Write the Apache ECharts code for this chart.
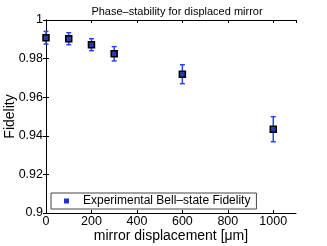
<!DOCTYPE html>
<html><head><meta charset="utf-8">
<script src="https://cdn.jsdelivr.net/npm/echarts@6/dist/echarts.min.js"></script>
<style>html,body{margin:0;padding:0;background:#fff}#c{width:327px;height:246px}</style>
</head><body><div id="c"></div>
<script>
var displacement = [0, 100, 200, 300, 600, 1000];
var fidelity = [0.9908, 0.9903, 0.9872, 0.9825, 0.9719, 0.9434];
var fidelityErr = [0.0033, 0.0031, 0.0031, 0.0037, 0.0049, 0.0065];
var xTicks = [0, 200, 400, 600, 800, 1000];
var seriesName = 'Experimental Bell\u2013state Fidelity';

var font = 'Liberation Sans, Arial, sans-serif';
var chart = echarts.init(document.getElementById('c'), null, {renderer: 'canvas'});
var pts = displacement.map(function (x, i) { return [x, fidelity[i]]; });
var errData = displacement.map(function (x, i) { return [x, fidelity[i] - fidelityErr[i], fidelity[i] + fidelityErr[i]]; });
var axisLineStyle = {color: '#000', width: 1};
chart.setOption({
  animation: false,
  title: {text: 'Phase\u2013stability for displaced mirror', left: 172, top: 1, textAlign: 'center',
    textStyle: {fontFamily: font, fontSize: 11, fontWeight: 'normal', color: '#000'}},
  grid: {left: 46, right: 31, top: 20, bottom: 33, containLabel: false, outerBoundsMode: 'none'},
  legend: {left: 51, top: 193, padding: [2, 6, 2, 13], itemWidth: 5, itemHeight: 5, itemGap: 0,
    borderColor: '#444', borderWidth: 1, backgroundColor: '#fff',
    icon: 'rect', data: [{name: seriesName, itemStyle: {color: '#2233cc', borderWidth: 0}}],
    textStyle: {fontFamily: font, fontSize: 12, color: '#000', padding: [0, 0, 0, 9]}},
  xAxis: [{type: 'value', min: 0, max: 1100, interval: 200, position: 'bottom',
    name: 'mirror displacement [\u03bcm]', nameLocation: 'middle', nameGap: 16, nameMoveOverlap: false,
    nameTextStyle: {fontFamily: font, fontSize: 14, color: '#000'},
    axisLine: {lineStyle: axisLineStyle}, splitLine: {show: false},
    axisTick: {inside: true, length: 3, lineStyle: {color: '#000'}},
    axisLabel: {fontFamily: font, fontSize: 12.5, color: '#000', margin: 2, showMaxLabel: false,
      formatter: function (v) { return xTicks.indexOf(v) >= 0 ? String(v) : ''; }}},
   {type: 'value', min: 0, max: 1100, interval: 200, position: 'top',
    axisLine: {lineStyle: axisLineStyle}, splitLine: {show: false},
    axisTick: {inside: true, length: 3, lineStyle: {color: '#000'}}, axisLabel: {show: false}}],
  yAxis: [{type: 'value', min: 0.9, max: 1, interval: 0.02, position: 'left',
    name: 'Fidelity', nameLocation: 'middle', nameGap: 29, nameRotate: 90, nameMoveOverlap: false,
    nameTextStyle: {fontFamily: font, fontSize: 14, color: '#000'},
    axisLine: {lineStyle: axisLineStyle}, splitLine: {show: false},
    axisTick: {inside: true, length: 3, lineStyle: {color: '#000'}},
    axisLabel: {fontFamily: font, fontSize: 12.5, color: '#000', margin: 3,
      formatter: function (v) { return String(+v.toFixed(2)); }}},
   {type: 'value', min: 0.9, max: 1, interval: 0.02, position: 'right',
    axisLine: {lineStyle: axisLineStyle}, splitLine: {show: false},
    axisTick: {inside: true, length: 3, lineStyle: {color: '#000'}}, axisLabel: {show: false}}],
  series: [
    {type: 'custom', name: 'err', data: errData, z: 2,
     renderItem: function (params, api) {
       var lo = api.coord([api.value(0), api.value(1)]);
       var hi = api.coord([api.value(0), api.value(2)]);
       var w = 2.5;
       var st = {stroke: '#2a44ee', lineWidth: 1.5};
       return {type: 'group', children: [
         {type: 'line', shape: {x1: lo[0], y1: lo[1], x2: hi[0], y2: hi[1]}, style: st},
         {type: 'line', shape: {x1: lo[0] - w, y1: lo[1], x2: lo[0] + w, y2: lo[1]}, style: st},
         {type: 'line', shape: {x1: hi[0] - w, y1: hi[1], x2: hi[0] + w, y2: hi[1]}, style: st}
       ]};
     }},
    {type: 'scatter', name: seriesName, data: pts, symbol: 'rect', symbolSize: 6, z: 3,
     itemStyle: {color: '#2a3aa8', borderColor: '#000', borderWidth: 1.5, opacity: 1}}
  ]
});
</script></body></html>
